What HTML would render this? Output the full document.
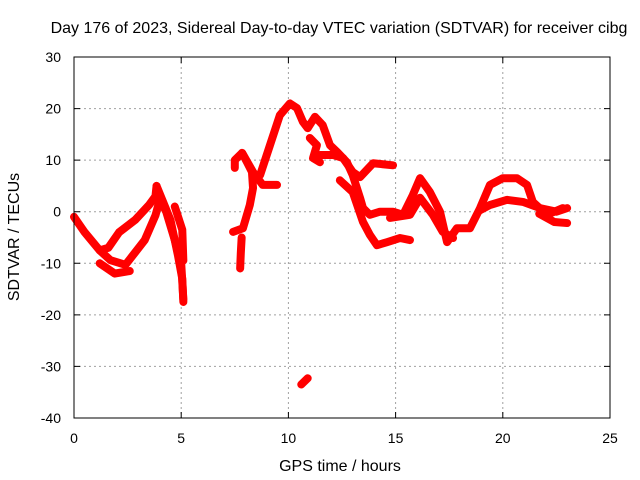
<!DOCTYPE html>
<html><head><meta charset="utf-8"><style>
body{margin:0;background:#fff;}
svg{display:block;font-family:"Liberation Sans",sans-serif;}
</style></head><body>
<svg id="chart" width="640" height="480">
<rect width="640" height="480" fill="#fff"/>
<text x="339" y="33" font-size="16" text-anchor="middle">Day 176 of 2023, Sidereal Day-to-day VTEC variation (SDTVAR) for receiver cibg</text>
<text x="340" y="471" font-size="16" text-anchor="middle">GPS time / hours</text>
<text transform="translate(19,237) rotate(-90)" font-size="16" text-anchor="middle">SDTVAR / TECUs</text>
<g id="grid"></g>
<g id="marks"></g>
<rect x="74" y="57" width="536" height="361" fill="none" stroke="#000" stroke-width="1"/>
</svg>
<script>
const xTicks=[0,5,10,15,20,25];
const yTicks=[-40,-30,-20,-10,0,10,20,30];
const s1t=[0,0.5,1.2,1.6,2.1,2.85,3.5,3.8,3.85];
const s1v=[-1,-4,-7.5,-7,-4,-1.6,1.3,3,5];
const s2t=[1.2,1.7,2.4,3.3,3.8,4.0,4.3,4.7,5.0,5.1];
const s2v=[-7.5,-9.4,-10.3,-5.5,-0.7,2.3,0,-5.5,-10,-17];
const s3t=[1.2,1.9,2.6];
const s3v=[-10,-12,-11.5];
const s4t=[3.85,4.5,4.85,5.05,5.1];
const s4v=[5,-1.6,-8.5,-13,-17.5];
const s5t=[4.7,5.05,5.1];
const s5v=[1,-3.5,-9.5];
const s6t=[7.42,7.88,8.2,8.35,8.3,8.07,7.84,7.5,7.5];
const s6v=[-3.9,-3.2,1.3,4.6,7.7,9.6,11.4,10,8.5];
const s7t=[7.84,8.35,8.8,9.47];
const s7v=[11.4,7.7,5.2,5.2];
const s8t=[8.68,9.14,9.6,10.07,10.4,10.68,10.9,11.24,11.6,11.94,12.27,12.73,13.0,13.34,13.48,13.8,14.27,14.88,15.35,15.8,16.14,16.6,17.07,17.4,17.86,18.47,18.94,19.4,20.0,20.66,21.13,21.4,22.06,22.8];
const s8v=[7.1,12.9,18.7,21,20.1,17.4,16.2,18.4,16.8,12.9,11.6,9.6,7.1,2.7,0.7,-0.6,0,0,-0.6,3.2,6.5,3.8,0,-5.9,-3.2,-3.2,0.7,5.2,6.5,6.5,5.2,1.9,-0.6,0.7];
const s9t=[12.4,13.0,13.48,13.8,14.13,14.6,15.2,15.67];
const s9v=[6.1,3.8,-2,-4.5,-6.5,-5.9,-5.1,-5.5];
const s10t=[11.0,11.33,11.15,11.47];
const s10v=[14.3,12.9,10.4,9.6];
const s11t=[11.47,12.08,12.55,13.0,13.34,13.95,14.88];
const s11v=[11,11,10.4,7.7,6.7,9.4,9];
const s12t=[14.74,15.67,16.14,16.74,17.2,17.68];
const s12v=[-1.2,-0.6,2.7,-0.6,-3.9,-5.1];
const s13t=[18.94,19.4,20.2,20.94,21.74,22.5,23.0];
const s13v=[0.3,1.3,2.3,1.9,0.7,0,0.7];
const s14t=[21.7,22.4,23.0];
const s14v=[-0.4,-2,-2.2];
const s15t=[7.82,7.78,7.75];
const s15v=[-5,-8,-11];
const s16t=[10.6,10.9];
const s16v=[-33.5,-32.3];
const series=[[s1t,s1v],[s2t,s2v],[s3t,s3v],[s4t,s4v],[s5t,s5v],[s6t,s6v],[s7t,s7v],[s8t,s8v],[s9t,s9v],[s10t,s10v],[s11t,s11v],[s12t,s12v],[s13t,s13v],[s14t,s14v],[s15t,s15v],[s16t,s16v]];
const X0=74,X1=610,Y0=418,Y1=57;
function xs(h){return X0+(h-0)/(25-0)*(X1-X0);}
function ys(v){return Y0-(v+40)/(70)*(Y0-Y1);}
const NS='http://www.w3.org/2000/svg';
const grid=document.getElementById('grid');
const svg=document.getElementById('chart');
xTicks.forEach(t=>{
  const x=xs(t);
  if(t>0&&t<25){const l=document.createElementNS(NS,'line');
  l.setAttribute('x1',x);l.setAttribute('x2',x);l.setAttribute('y1',Y1);l.setAttribute('y2',Y0);
  l.setAttribute('stroke','#a0a0a0');l.setAttribute('stroke-dasharray','2,3');
  
  
  grid.appendChild(l);}
  const tk=document.createElementNS(NS,'path');
  tk.setAttribute('d',`M${x},${Y0}v-6M${x},${Y1}v6`);tk.setAttribute('stroke','#000');
  
  
  grid.appendChild(tk);
  const tx=document.createElementNS(NS,'text');
  tx.setAttribute('x',x);tx.setAttribute('y',443);tx.setAttribute('font-size','14');tx.setAttribute('text-anchor','middle');
  tx.textContent=t;
  
  
  svg.appendChild(tx);
});
yTicks.forEach(t=>{
  const y=ys(t);
  if(t>-40&&t<30){const l=document.createElementNS(NS,'line');
  l.setAttribute('x1',X0);l.setAttribute('x2',X1);l.setAttribute('y1',y);l.setAttribute('y2',y);
  l.setAttribute('stroke','#a0a0a0');l.setAttribute('stroke-dasharray','2,3');
  
  
  grid.appendChild(l);}
  const tk=document.createElementNS(NS,'path');
  tk.setAttribute('d',`M${X0},${y}h6M${X1},${y}h-6`);tk.setAttribute('stroke','#000');
  
  
  grid.appendChild(tk);
  const tx=document.createElementNS(NS,'text');
  tx.setAttribute('x',61);tx.setAttribute('y',y+5);tx.setAttribute('font-size','14');tx.setAttribute('text-anchor','end');
  tx.textContent=t;
  
  
  svg.appendChild(tx);
});
const marks=document.getElementById('marks');
series.forEach(([t,v],i)=>{
  const p=document.createElementNS(NS,'polyline');
  p.setAttribute('points',t.map((h,j)=>xs(h)+','+ys(v[j])).join(' '));
  p.setAttribute('fill','none');p.setAttribute('stroke','#ff0000');p.setAttribute('stroke-width','8');
  p.setAttribute('stroke-linejoin','round');p.setAttribute('stroke-linecap','round');
  
  
  marks.appendChild(p);
});
</script>
</body></html>
